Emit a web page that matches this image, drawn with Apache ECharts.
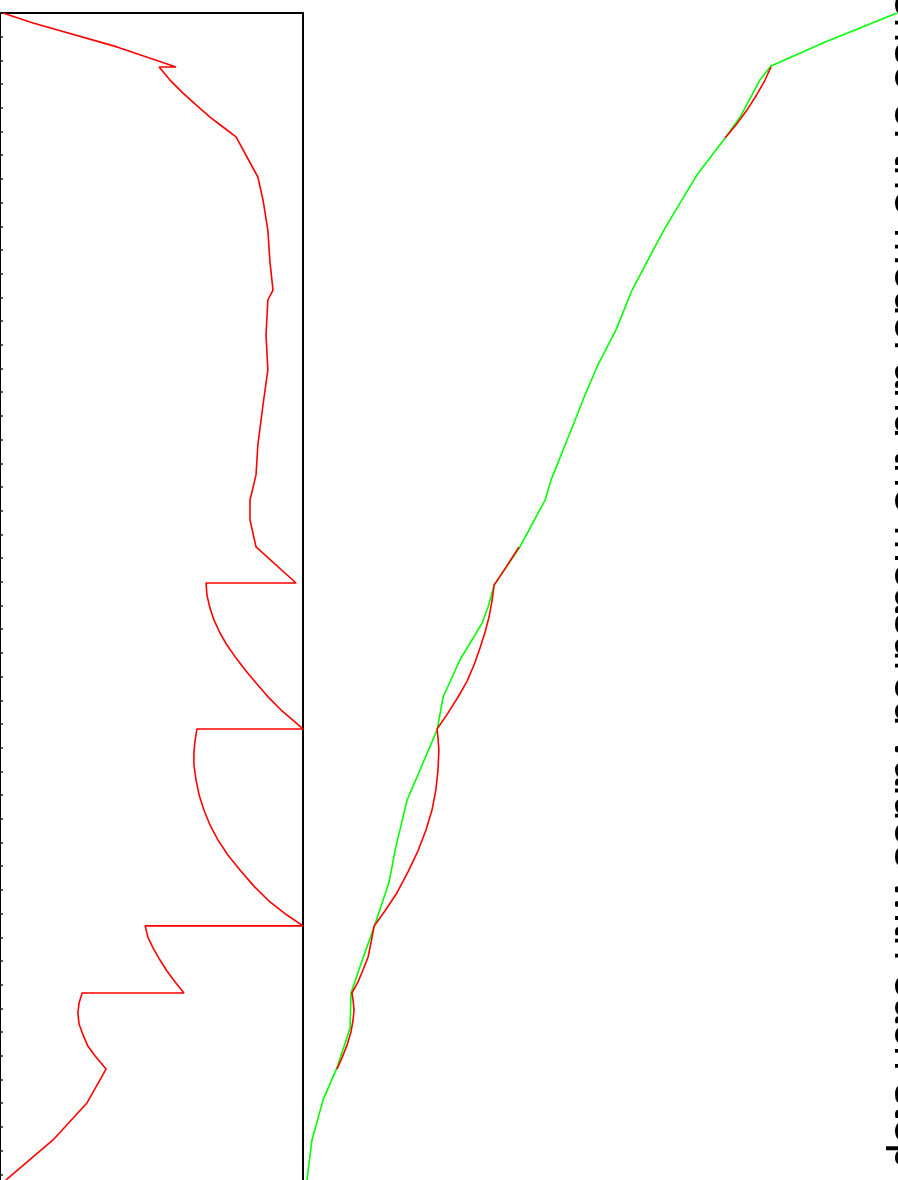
<!DOCTYPE html>
<html>
<head>
<meta charset="utf-8">
<script src="https://cdn.jsdelivr.net/npm/echarts@6/dist/echarts.min.js"></script>
<style>
  html, body { margin: 0; padding: 0; background: #ffffff; overflow: hidden; }
  #chart { width: 1000px; height: 1300px; }
</style>
</head>
<body>
<div id="chart"></div>
<script>
// Depth runs down the page (0 at the top frame line), values run across.

// Left panel: red profile (value 0–100), with its step changes
const leftRedDepth = [0, 4.2, 14.3, 22.8, 22.8, 28.3, 33.8, 38.8, 43.9, 48.1, 52.3, 69.2, 78.9, 91.6,
  105.1, 116.9, 121.1, 135.9, 150.6, 165.4, 168.4, 182.3, 194.9, 205.5, 213.9, 225.3,
  240.5, 240.5, 245.6, 251.1, 256.1, 261.6, 266.7, 272.2, 277.6, 283.1, 289.0, 294.5, 299.2, 302.1,
  302.1, 306.8, 311.8, 317.3, 323.6, 329.9, 336.3, 342.6, 348.9, 355.3, 361.6, 368.4, 375.1, 380.6, 385.2,
  385.2, 389.9, 394.5, 399.6, 404.2, 408.9, 413.5,
  413.5, 417.7, 421.9, 426.6, 431.2, 435.9, 440.1, 445.6, 459.9, 475.5, 492.0, 495.0];
const leftRedValue = [1.0, 10.9, 38.6, 58.1, 52.5, 56.1, 60.4, 64.7, 69.3, 73.6, 77.9, 85.1, 86.8, 88.4,
  89.1, 90.1, 88.4, 87.8, 88.4, 86.8, 86.5, 85.1, 84.5, 82.5, 82.5, 84.5,
  97.7, 68.0, 68.3, 69.3, 70.6, 72.6, 74.9, 77.9, 81.2, 84.8, 88.8, 93.1, 97.4, 100,
  65.0, 64.4, 64.0, 64.0, 64.7, 65.7, 67.3, 69.3, 71.9, 75.2, 79.2, 83.8, 89.1, 94.7, 100,
  47.9, 48.8, 50.5, 52.8, 55.1, 57.8, 60.7,
  27.1, 26.1, 25.7, 26.1, 27.4, 29.0, 31.4, 35.0, 28.7, 17.5, 2.3, 0];

// Right panel: green series (value 0–200)
const greenDepth = [497.0, 492.4, 475.5, 458.6, 445.1, 428.3, 413.5, 398.7, 385.7, 366.7, 353.2, 332.1,
  319.4, 302.5, 288.6, 273.0, 257.4, 250.6, 241.4, 225.3, 205.5, 197.0, 171.7, 161.2, 148.5, 133.8,
  116.9, 104.2, 90.7, 68.4, 52.7, 43.9, 28.3, 22.4, 12.7, 0];
const greenValue = [0.7, 1.3, 3.0, 6.7, 11.3, 15.7, 16.0, 20.0, 23.7, 28.7, 30.7, 34.7,
  39.0, 44.7, 46.7, 52.3, 59.7, 61.7, 63.7, 72.3, 80.7, 82.7, 90.7, 94.0, 98.3, 104.3,
  109.7, 115.0, 120.7, 131.3, 140.7, 145.7, 152.3, 156.0, 173.3, 198.0];

// Right panel: red series, lower run
const redLowDepth = [445.6, 440.9, 435.4, 429.9, 424.9, 420.7, 416.5, 413.5, 408.9, 403.8, 398.3, 392.0,
  385.2, 378.9, 371.3, 362.4, 353.6, 344.7, 336.3, 327.8, 319.4, 311.0, 305.9, 302.1, 295.4, 288.6,
  281.9, 275.1, 267.9, 261.2, 254.9, 248.1, 241.4, 233.8, 225.3];
const redLowValue = [11.3, 13.0, 14.7, 16.0, 16.7, 17.0, 16.7, 16.3, 18.3, 20.0, 21.7, 22.7,
  23.7, 27.3, 31.3, 35.0, 38.3, 41.0, 43.0, 44.3, 45.0, 45.3, 45.0, 44.7, 48.3, 51.7,
  54.7, 57.0, 59.0, 60.7, 62.0, 63.0, 63.7, 67.7, 72.0];

// Right panel: red series, upper run
const redHighDepth = [52.7, 47.3, 40.9, 35.0, 29.1, 22.8];
const redHighValue = [140.7, 144.3, 148.0, 151.0, 153.7, 156.0];

// Caption running down the right edge (mostly beyond the page edge)
const captionText = 'response of the model and the measured values with each step change in time';

function pairs(values, depths) {
  return values.map((v, i) => [v, depths[i]]);
}

const DEPTH_MAX = 500;
const chart = echarts.init(document.getElementById('chart'), null, { renderer: 'canvas' });

const lineBase = { type: 'line', showSymbol: false, smooth: false };

chart.setOption({
  animation: false,
  backgroundColor: '#ffffff',
  grid: [
    { left: 0, top: 13, width: 303, height: 1185, show: true, borderColor: '#000000', borderWidth: 2 },
    { left: 303, top: 13, width: 600, height: 1185, show: false }
  ],
  xAxis: [
    { gridIndex: 0, type: 'value', min: 0, max: 100, show: false },
    { gridIndex: 1, type: 'value', min: 0, max: 200, show: false }
  ],
  yAxis: [
    {
      gridIndex: 0, type: 'value', inverse: true, min: 0, max: DEPTH_MAX, interval: 10,
      axisLine: { show: false },
      axisTick: { show: true, inside: true, length: 3, lineStyle: { color: '#222222', width: 1.5 } },
      axisLabel: { show: false },
      splitLine: { show: false }
    },
    {
      gridIndex: 1, type: 'value', inverse: true, min: 0, max: DEPTH_MAX, show: false
    }
  ],
  graphic: [
    {
      type: 'text',
      x: 885,
      y: -95,
      rotation: -Math.PI / 2,
      silent: true,
      style: {
        text: captionText,
        fill: '#000000',
        font: '45px "Liberation Sans", Arial, sans-serif',
        align: 'left',
        verticalAlign: 'bottom'
      }
    }
  ],
  series: [
    Object.assign({}, lineBase, {
      xAxisIndex: 0, yAxisIndex: 0,
      data: pairs(leftRedValue, leftRedDepth),
      lineStyle: { color: '#ff0000', width: 1.6 }, z: 3
    }),
    Object.assign({}, lineBase, {
      xAxisIndex: 1, yAxisIndex: 1,
      data: pairs(greenValue, greenDepth),
      lineStyle: { color: '#00ff00', width: 1.6 }, z: 2
    }),
    Object.assign({}, lineBase, {
      xAxisIndex: 1, yAxisIndex: 1,
      data: pairs(redLowValue, redLowDepth),
      lineStyle: { color: '#ff0000', width: 1.6 }, z: 3
    }),
    Object.assign({}, lineBase, {
      xAxisIndex: 1, yAxisIndex: 1,
      data: pairs(redHighValue, redHighDepth),
      lineStyle: { color: '#ff0000', width: 1.6 }, z: 3
    })
  ]
});
</script>
</body>
</html>
